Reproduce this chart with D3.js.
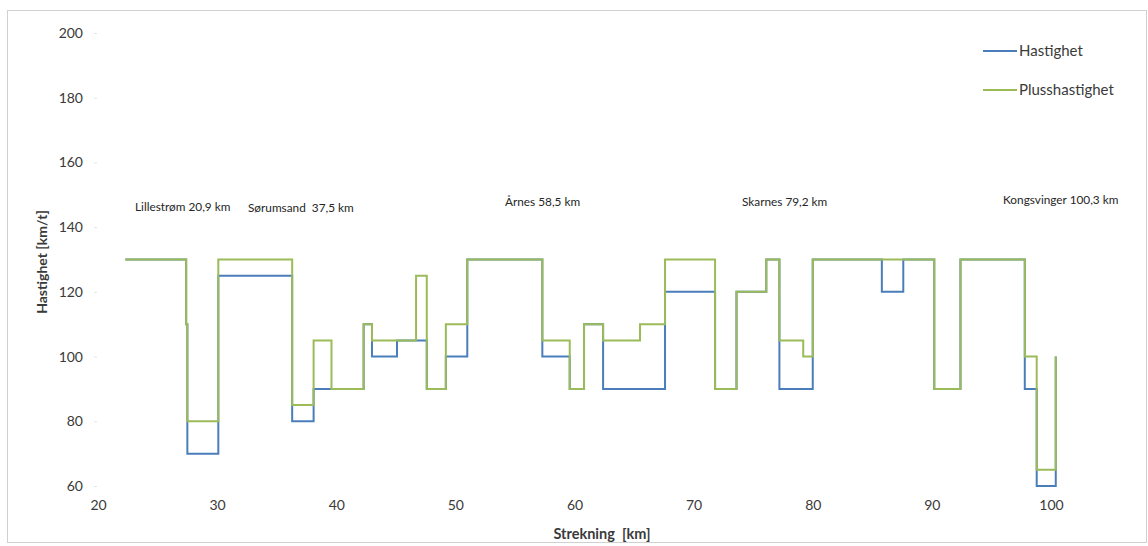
<!DOCTYPE html>
<html><head><meta charset="utf-8">
<script src="https://cdn.jsdelivr.net/npm/d3@7"></script>
<style>body{margin:0;background:#fff;} text{font-family:Lato,"Open Sans",sans-serif;white-space:pre;}</style>
</head><body>
<svg id="c" width="1148" height="546"></svg>
<script>
// Data
const hastighetKm = [22.3,27.4,27.5,30.1,36.3,38.1,39.6,42.3,43.0,45.1,47.6,49.2,51.0,57.3,59.6,60.8,62.4,67.6,71.8,73.6,76.1,77.2,80.0,85.8,87.6,90.2,92.4,97.8,98.8,100.4];
const hastighetV  = [130, 110, 70, 125, 80, 90, 90, 110, 100, 105, 90, 100, 130, 100, 90, 110, 90, 120, 90, 120, 130, 90, 130, 120, 130, 90, 130, 90, 60, 100];
const plussKm = [22.3,27.4,27.5,30.1,36.3,38.1,39.6,42.3,43.0,46.7,47.6,49.2,51.0,57.3,59.6,60.8,62.4,65.5,67.6,71.8,73.6,76.1,77.2,79.2,80.0,90.2,92.4,97.8,98.8,100.4];
const plussV  = [130, 110, 80, 130, 85, 105, 90, 110, 105, 125, 90, 110, 130, 105, 90, 110, 105, 110, 130, 90, 120, 130, 105, 100, 130, 90, 130, 100, 65, 100];
const xTicks = [20,30,40,50,60,70,80,90,100];
const yTicks = [60,80,100,120,140,160,180,200];
const stations = ["Lillestrøm 20,9 km","Sørumsand  37,5 km","Årnes 58,5 km","Skarnes 79,2 km","Kongsvinger 100,3 km"];
const stationPos = [[135,207],[248,208],[505,202],[742,202],[1003,200]];
const seriesNames = ["Hastighet","Plusshastighet"];
const colors = ["#4a7ebb","#9bbb59"];

const svg = d3.select("#c");
svg.append("rect").attr("x",7.5).attr("y",10.5).attr("width",1139).attr("height",532)
  .attr("fill","#fff").attr("stroke","#d0d0d0");

const x = d3.scaleLinear().domain([20,100]).range([98,1051]);
const y = d3.scaleLinear().domain([60,200]).range([486,33]);

// y axis
const ya = svg.append("g").attr("transform","translate(97,0)")
  .call(d3.axisLeft(y).tickValues(yTicks).tickSize(3).tickPadding(11));
ya.select(".domain").remove();
ya.selectAll(".tick line").attr("stroke","#e4e4e4");
ya.selectAll("text").attr("font-size",14).attr("fill","#3a3a3a");

// x axis
const xa = svg.append("g").attr("transform","translate(0,490)")
  .call(d3.axisBottom(x).tickValues(xTicks).tickSize(0).tickPadding(10));
xa.select(".domain").remove();
xa.selectAll("text").attr("font-size",14).attr("fill","#3a3a3a");

// titles
svg.append("text").attr("transform","translate(47,262) rotate(-90)").attr("text-anchor","middle")
  .attr("font-size",14).attr("font-weight","bold").attr("fill","#3a3a3a").text("Hastighet [km/t]");
svg.append("text").attr("x",602).attr("y",539).attr("text-anchor","middle")
  .attr("font-size",14.5).attr("font-weight","bold").attr("fill","#3a3a3a").text("Strekning  [km]");

// lines
const line = d3.line().x(d=>x(d[0])).y(d=>y(d[1])).curve(d3.curveStepAfter);
const data = [d3.zip(hastighetKm,hastighetV), d3.zip(plussKm,plussV)];
data.forEach((d,i)=>{
  svg.append("path").datum(d).attr("d",line).attr("fill","none")
    .attr("stroke",colors[i]).attr("stroke-width",2);
});

// stations
stations.forEach((s,i)=>{
  svg.append("text").attr("x",stationPos[i][0]).attr("y",stationPos[i][1]+4)
    .attr("font-size",11.8).attr("fill","#262626").text(s);
});

// legend
seriesNames.forEach((n,i)=>{
  const ly = 51 + i*39;
  svg.append("line").attr("x1",983).attr("x2",1017).attr("y1",ly).attr("y2",ly)
    .attr("stroke",colors[i]).attr("stroke-width",2);
  svg.append("text").attr("x",1019).attr("y",ly+5).attr("font-size",15).attr("fill","#3a3a3a").text(n);
});
</script>
</body></html>
